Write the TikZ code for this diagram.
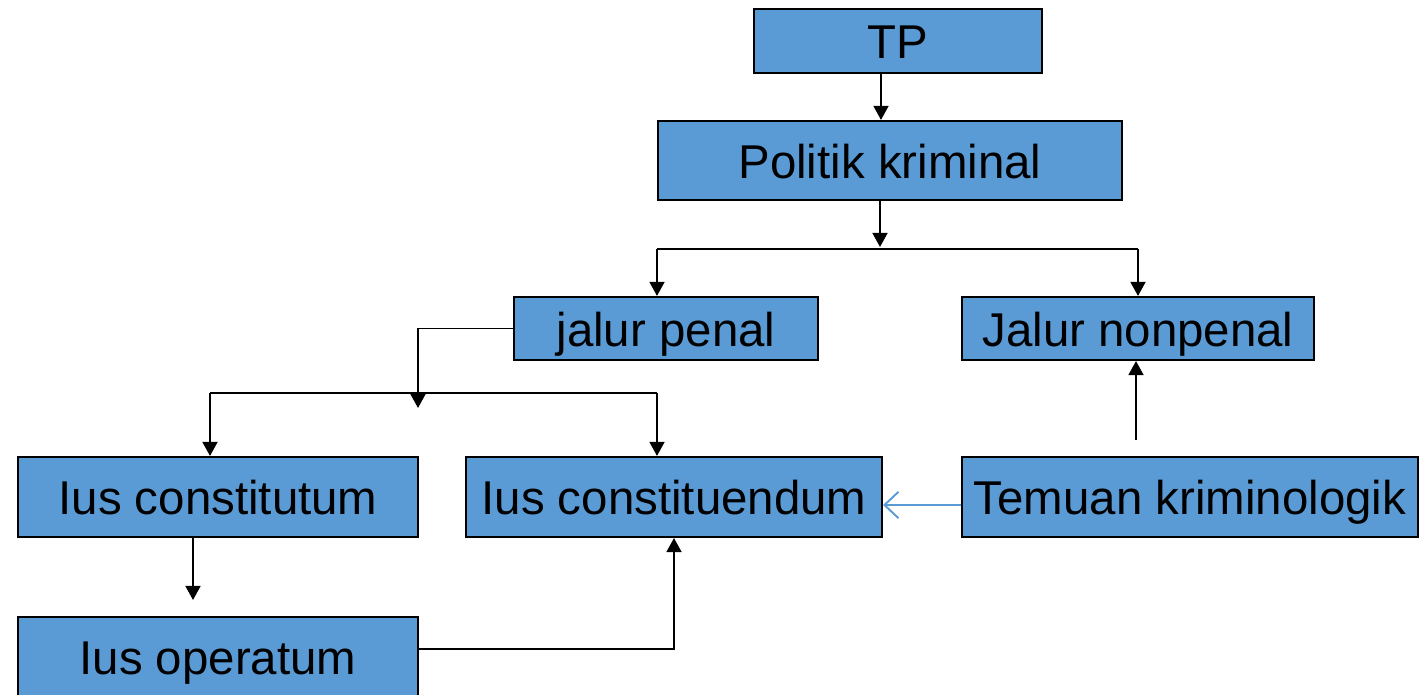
\documentclass[tikz,border=0pt]{standalone}
\usepackage{fontspec}
\setmainfont{Liberation Sans}
\usetikzlibrary{arrows.meta}
\definecolor{boxblue}{HTML}{5B9BD5}
\begin{document}
\begin{tikzpicture}[x=0.02cm,y=-0.02cm,
  box/.style={draw=black,line width=1.2pt,fill=boxblue,inner sep=0pt,
    font=\fontsize{27}{30}\selectfont,text=black,text height=20pt,text depth=0pt},
  arr/.style={line width=1.1pt,-{Triangle[length=8pt,width=8.5pt]}},
  ln/.style={line width=1.1pt},
  barr/.style={draw=boxblue,line width=1.1pt,-{Straight Barb[length=8pt,width=15pt,line width=1.1pt]}}]
\useasboundingbox (0,0) rectangle (1421,695);
\node[box,minimum width=5.76cm,minimum height=1.28cm] (tp) at (898,41) {TP};
\node[box,minimum width=9.28cm,minimum height=1.58cm] (pk) at (890,160.5) {Politik kriminal};
\node[box,minimum width=6.08cm,minimum height=1.26cm] (jp) at (666,328.5) {jalur penal};
\node[box,minimum width=7.04cm,minimum height=1.26cm] (jn) at (1138,328.5) {Jalur nonpenal};
\node[box,minimum width=8.0cm,minimum height=1.6cm] (ic) at (218,497) {Ius constitutum};
\node[box,minimum width=8.32cm,minimum height=1.6cm] (icd) at (674,497) {Ius constituendum};
\node[box,minimum width=9.12cm,minimum height=1.6cm] (tk) at (1190,497) {Temuan kriminologik};
\node[box,minimum width=8.0cm,minimum height=1.6cm] (io) at (218,657) {Ius operatum};
\coordinate (s1) at (880,247);
\coordinate (h1l) at (657,249);
\coordinate (h1r) at (1138,249);
\coordinate (s2) at (418,408);
\coordinate (h2l) at (210,393);
\coordinate (h2r) at (657,393);
\coordinate (icend) at (193,600);
\coordinate (tkstart) at (1136,440);
% TP -> Politik kriminal
\draw[arr] (tp.south -| 881,0) -- (pk.north -| 881,0);
% Politik kriminal -> split
\draw[arr] (pk.south -| s1) -- (s1);
\draw[ln] (h1l) -- (h1r);
\draw[arr] (h1l) -- (jp.north -| h1l);
\draw[arr] (h1r) -- (jn.north -| h1r);
% jalur penal -> split
\draw[ln] (h2l) -- (h2r);
\draw[arr] (jp.west) -- (jp.west -| s2) -- (s2);
\draw[arr] (h2l) -- (ic.north -| h2l);
\draw[arr] (h2r) -- (icd.north -| h2r);
% Ius constitutum -> free arrow
\draw[arr] (ic.south -| icend) -- (icend);
% Ius operatum -> Ius constituendum
\draw[arr] (io.east |- 0,649) -- (674,649) -- (icd.south -| 674,0);
% Temuan -> Ius constituendum
\draw[barr] (tk.west |- 0,505) -- (icd.east |- 0,505);
% free arrow -> Jalur nonpenal
\draw[arr] (tkstart) -- (jn.south -| tkstart);
\end{tikzpicture}
\end{document}
